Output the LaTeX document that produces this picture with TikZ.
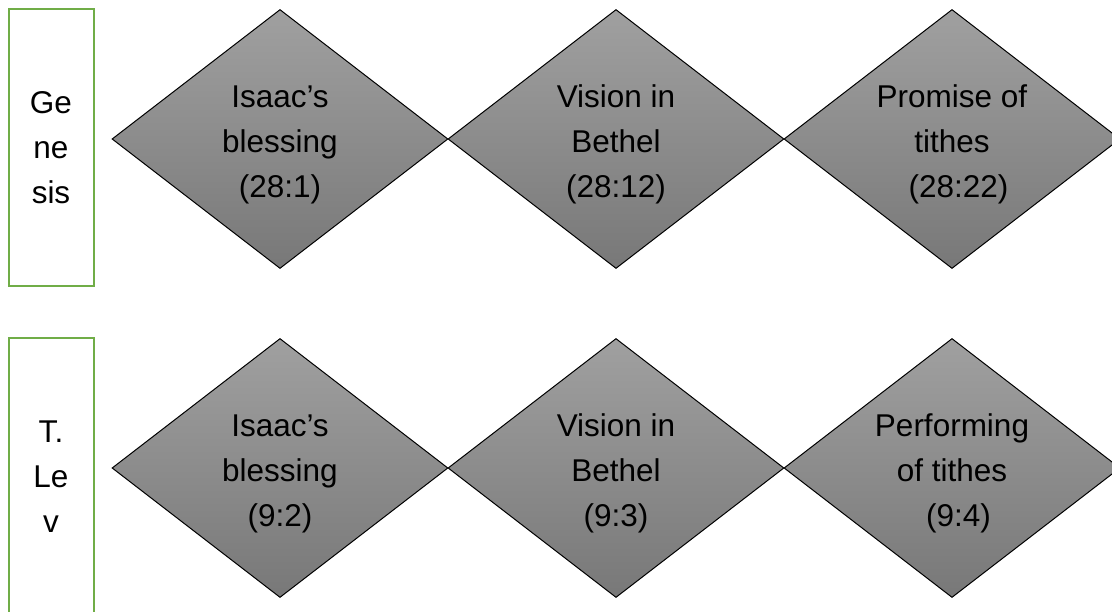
\documentclass[tikz,border=0pt]{standalone}
\usepackage{fontspec}
\setmainfont{Liberation Sans}
\usetikzlibrary{shapes.geometric}
\definecolor{boxgreen}{HTML}{70AD47}
\definecolor{gtop}{HTML}{A0A0A0}
\definecolor{gbot}{HTML}{787878}
\tikzset{
  stage/.style={diamond, draw=black, line width=1pt, top color=gtop, bottom color=gbot,
    minimum width=336pt, minimum height=259pt, inner sep=0pt},
  lbl/.style={align=center, font=\fontsize{31.5}{45}\selectfont, inner sep=0pt},
  book/.style={rectangle, draw=boxgreen, line width=2pt, minimum width=85pt,
    minimum height=277pt, inner sep=0pt, lbl},
  txt/.style={lbl, yshift=-5.5pt}
}
\begin{document}
\begin{tikzpicture}[x=1pt,y=-1pt]
\useasboundingbox (0,0) rectangle (1112,612);
% books
\node[book] (gen) at (51,147.5) {Ge\\ne\\sis};
\node[book] (tlev) at (51,477) {T.\\Le\\v};
% top row
\node[stage] (g1) at (280,139) {};
\node[stage] (g2) at (616,139) {};
\node[stage] (g3) at (952,139) {};
\node[txt] (tg1) at (g1.center) {Isaac’s\\blessing\\(28:1)};
\node[txt] (tg2) at (g2.center) {Vision in\\Bethel\\(28:12)};
\node[txt] (tg3) at (g3.center) {Promise of\\tithes\\\hspace*{13pt}(28:22)};
% bottom row
\node[stage] (l1) at (280,468) {};
\node[stage] (l2) at (616,468) {};
\node[stage] (l3) at (952,468) {};
\node[txt] (tl1) at (l1.center) {Isaac’s\\blessing\\(9:2)};
\node[txt] (tl2) at (l2.center) {Vision in\\Bethel\\(9:3)};
\node[txt] (tl3) at (l3.center) {Performing\\of tithes\\\hspace*{13pt}(9:4)};
\end{tikzpicture}
\end{document}
